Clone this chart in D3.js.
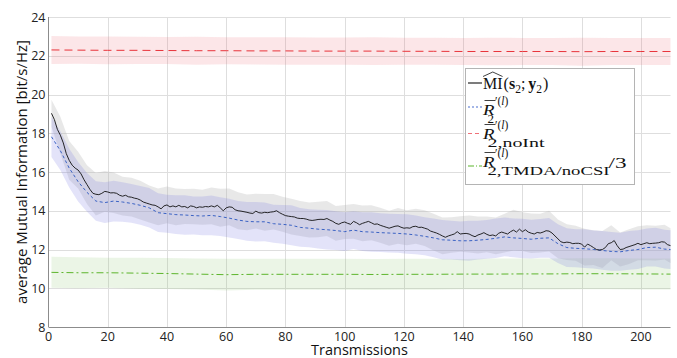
<!DOCTYPE html>
<html>
<head>
<meta charset="utf-8">
<script src="https://cdn.jsdelivr.net/npm/d3@7"></script>
<style>
  html, body { margin: 0; padding: 0; background: #fff; }
  svg { display: block; }
</style>
</head>
<body>
<div id="chart"></div>
<script>
// Transmission index for the MI estimate (one value per transmission)
const tFine = d3.range(1, 211);
// Coarser sampling used for the dashed R2 curve and the spread bands
const tCoarse = d3.range(1, 211, 3).concat([210]);
// Sampling of the almost flat reference curves
const tFlat = [1].concat(d3.range(10, 211, 10));

// MI estimate (black solid)
const mi = [19.03,18.7,18.2,17.9,17.5,16.95,16.6,16.35,16.2,16.1,
  15.9,15.6,15.35,15.1,14.9,14.85,14.83,14.9,15.0,14.97,
  14.92,14.93,14.9,14.8,14.75,14.8,14.72,14.7,14.65,14.62,
  14.55,14.45,14.4,14.35,14.3,14.28,14.2,14.1,14.25,14.3,
  14.2,14.25,14.2,14.28,14.2,14.22,14.15,14.25,14.22,14.15,
  14.2,14.18,14.22,14.2,14.25,14.2,14.28,14.15,14.0,14.15,
  14.2,14.18,14.05,14.0,13.98,13.95,13.92,13.88,13.86,13.98,
  13.9,13.88,13.92,13.9,13.93,13.95,14.0,13.9,13.82,13.75,
  13.72,13.7,13.68,13.62,13.6,13.6,13.57,13.52,13.5,13.52,
  13.55,13.56,13.55,13.6,13.52,13.45,13.35,13.3,13.38,13.42,
  13.35,13.3,13.45,13.38,13.28,13.35,13.4,13.45,13.38,13.3,
  13.32,13.25,13.2,13.15,13.1,13.15,13.2,13.22,13.15,13.1,
  13.12,13.1,13.18,13.2,13.14,13.15,13.1,13.05,12.95,12.9,
  12.85,12.78,12.7,12.63,12.7,12.75,12.8,12.92,12.8,12.82,
  12.83,12.8,12.72,12.66,12.75,12.8,12.87,12.78,12.72,12.75,
  12.7,12.84,12.9,12.85,12.8,12.92,13.0,12.9,13.05,12.92,
  13.02,12.9,12.84,12.8,12.88,12.85,12.9,12.97,12.95,12.85,
  12.7,12.55,12.4,12.35,12.38,12.36,12.3,12.32,12.32,12.28,
  12.12,12.28,12.2,12.1,12.0,11.97,12.0,12.1,12.3,12.35,
  12.46,12.2,12.0,12.02,12.1,12.15,12.2,12.25,12.32,12.25,
  12.3,12.35,12.3,12.32,12.33,12.35,12.4,12.38,12.25,12.2];

// spread of the MI estimate, at tCoarse
const miStd = [0.7,0.95,1.0,0.95,1.0,1.1,1.05,1.05,1.0,1.0,
  1.0,0.95,0.95,0.95,0.95,0.9,0.92,0.9,0.95,0.98,
  0.95,0.95,0.92,0.9,0.95,0.92,0.9,0.92,0.9,0.9,
  0.92,0.9,0.9,0.88,0.9,0.92,0.9,0.9,0.9,0.92,
  0.9,0.9,0.92,0.95,0.95,0.92,0.92,0.95,0.95,0.92,
  0.95,1.0,1.05,1.0,1.02,1.0,1.05,1.0,0.92,0.9,
  0.95,0.9,0.95,0.9,0.88,0.9,0.88,0.9,0.9,0.9,
  0.9];

// R2 (blue dashed), at tCoarse
const r2 = [17.82,17.1,16.2,15.5,14.95,14.5,14.42,14.5,14.45,14.38,
  14.28,14.15,13.9,13.85,13.8,13.78,13.75,13.73,13.76,13.7,
  13.62,13.52,13.45,13.43,13.43,13.33,13.3,13.25,13.14,13.1,
  13.05,13.02,12.98,12.92,13.0,12.92,12.9,12.87,12.85,12.83,
  12.8,12.75,12.68,12.6,12.5,12.48,12.45,12.45,12.48,12.52,
  12.58,12.65,12.6,12.57,12.53,12.58,12.6,12.3,12.1,12.06,
  12.04,12.0,11.95,11.9,11.88,11.95,12.0,12.1,12.12,12.02,
  12.0];
const r2Std = [1.05,1.0,1.0,1.02,1.0,1.02,1.05,1.05,1.02,1.0,
  1.0,1.02,1.0,0.98,1.0,1.02,0.98,1.0,1.03,1.0,
  1.0,0.98,1.0,1.02,1.0,0.98,1.0,1.03,1.0,0.98,
  1.0,1.02,1.0,1.0,0.98,1.0,1.02,1.0,1.0,1.0,
  1.02,1.0,0.98,1.0,1.02,1.0,1.0,1.03,1.0,1.0,
  1.02,1.0,1.0,1.02,1.0,1.0,1.03,1.0,1.0,0.98,
  1.0,0.98,1.0,1.0,0.98,1.0,1.0,0.98,1.0,1.0,
  1.0];

// R2 without interference (red dashed), at tFlat
const r2NoInt = [22.3,22.29,22.28,22.28,22.27,22.26,22.26,22.25,22.25,22.24,22.24,
  22.24,22.23,22.23,22.22,22.22,22.22,22.22,22.21,22.22,22.22,22.22];
const r2NoIntStd = [0.72,0.7,0.72,0.7,0.7,0.72,0.7,0.7,0.71,0.7,0.7,
  0.72,0.7,0.7,0.7,0.71,0.7,0.7,0.72,0.7,0.7,0.7];

// R2 TMDA / noCSI divided by 3 (green dash-dot), at tFlat
const r2Tmda = [10.82,10.8,10.8,10.78,10.76,10.73,10.7,10.72,10.72,10.72,10.72,
  10.71,10.72,10.72,10.73,10.73,10.74,10.74,10.75,10.75,10.74,10.73];
const r2TmdaStd = [0.8,0.8,0.78,0.8,0.8,0.8,0.82,0.8,0.8,0.8,0.8,
  0.8,0.8,0.8,0.78,0.8,0.8,0.8,0.8,0.8,0.8,0.8];

const xTicks = d3.range(0, 201, 20);
const yTicks = d3.range(8, 25, 2);

const width = 677;
const height = 358;
const marginLeft = 48.5, marginRight = 6.5, marginTop = 17, marginBottom = 31;

const x = d3.scaleLinear().domain([0, 210]).range([marginLeft, width - marginRight]);
const y = d3.scaleLinear().domain([8, 24]).range([height - marginBottom, marginTop]);

const svg = d3.select("#chart").append("svg")
  .attr("width", width)
  .attr("height", height)
  .attr("font-family", "'Open Sans', sans-serif");

// grid
svg.append("g")
  .attr("stroke", "#dedede")
  .attr("stroke-width", 1)
  .call(g => g.selectAll("line.v").data(xTicks.filter(d => d > 0)).join("line")
    .attr("class", "v")
    .attr("x1", d => Math.round(x(d)) + 0.5).attr("x2", d => Math.round(x(d)) + 0.5)
    .attr("y1", y(8)).attr("y2", y(24)))
  .call(g => g.selectAll("line.h").data(yTicks.filter(d => d > 8)).join("line")
    .attr("class", "h")
    .attr("y1", d => Math.round(y(d)) + 0.5).attr("y2", d => Math.round(y(d)) + 0.5)
    .attr("x1", x(0)).attr("x2", x(210)));

// helper for mean +/- spread bands
function band(ts, mean, spread, fill, opacity) {
  const pts = ts.map((t, i) => ({ t, lo: mean[i] - spread[i], hi: mean[i] + spread[i] }));
  svg.append("path")
    .datum(pts)
    .attr("fill", fill)
    .attr("fill-opacity", opacity)
    .attr("d", d3.area().x(d => x(d.t)).y0(d => y(d.lo)).y1(d => y(d.hi)));
}

// MI values at the coarse sampling, for its band
const miCoarse = tCoarse.map(t => mi[t - 1]);

band(tFlat, r2NoInt, r2NoIntStd, "#f06a78", 0.17);
band(tFlat, r2Tmda, r2TmdaStd, "#78be5a", 0.15);
band(tCoarse, miCoarse, miStd, "#b4b4b4", 0.3);
band(tCoarse, r2, r2Std, "#7474e0", 0.2);

// curves
function curve(ts, vals, color, dash, w = 1) {
  svg.append("path")
    .datum(ts.map((t, i) => [t, vals[i]]))
    .attr("fill", "none")
    .attr("stroke", color)
    .attr("stroke-width", w)
    .attr("stroke-dasharray", dash)
    .attr("d", d3.line().x(d => x(d[0])).y(d => y(d[1])));
}

curve(tFlat, r2NoInt, "#e8333a", "8,5");
curve(tFlat, r2Tmda, "#5db52c", "7,3,2,3");
curve(tCoarse, r2, "#3a62c4", "3,2.5");
curve(tFine, mi, "#111", null, 0.9);

// axes lines
svg.append("line")
  .attr("x1", x(0)).attr("x2", x(0))
  .attr("y1", y(24)).attr("y2", y(8))
  .attr("stroke", "#8c8c8c");
svg.append("line")
  .attr("x1", x(0)).attr("x2", x(210))
  .attr("y1", y(8) + 0.5).attr("y2", y(8) + 0.5)
  .attr("stroke", "#8c8c8c");

// tick labels
svg.append("g")
  .attr("font-size", 12.5)
  .attr("fill", "#222")
  .selectAll("text").data(xTicks).join("text")
  .attr("x", d => x(d))
  .attr("y", y(8) + 14)
  .attr("text-anchor", "middle")
  .text(d => d);

svg.append("g")
  .attr("font-size", 12.5)
  .attr("fill", "#222")
  .selectAll("text").data(yTicks).join("text")
  .attr("x", x(0) - 3)
  .attr("y", d => y(d) + 4.5)
  .attr("text-anchor", "end")
  .text(d => d);

// axis titles
svg.append("text")
  .attr("x", (x(0) + x(210)) / 2)
  .attr("y", 354.5)
  .attr("text-anchor", "middle")
  .attr("font-size", 14.5)
  .attr("fill", "#111")
  .text("Transmissions");

svg.append("text")
  .attr("transform", `translate(27,${(y(8) + y(24)) / 2}) rotate(-90)`)
  .attr("text-anchor", "middle")
  .attr("font-size", 15)
  .attr("fill", "#111")
  .text("average Mutual Information [bit/s/Hz]");

// legend
const lg = svg.append("g").attr("font-family", "'Liberation Serif', serif").attr("fill", "#111");
lg.append("rect")
  .attr("x", 465.5).attr("y", 68.5)
  .attr("width", 169).attr("height", 116)
  .attr("fill", "#fff")
  .attr("stroke", "#b4b4b4");

const sampleX0 = 468, sampleX1 = 482;
const samples = [
  { yy: 83, color: "#111", dash: null },
  { yy: 107, color: "#4a6fd0", dash: "2,2" },
  { yy: 133.5, color: "#f07078", dash: "4,3" },
  { yy: 166, color: "#5db52c", dash: "6,2,1,2" },
];
lg.selectAll("line.sample").data(samples).join("line")
  .attr("class", "sample")
  .attr("x1", sampleX0).attr("x2", sampleX1)
  .attr("y1", d => d.yy).attr("y2", d => d.yy)
  .attr("stroke", d => d.color)
  .attr("stroke-width", 1.1)
  .attr("stroke-dasharray", d => d.dash);

// place a piece of text, return its width
function piece(px, py, str, o = {}) {
  const t = lg.append("text")
    .attr("x", px).attr("y", py)
    .attr("font-size", o.size || 16)
    .attr("font-style", o.italic ? "italic" : null)
    .attr("font-weight", o.bold ? "bold" : null)
    .text(str);
  if (o.len) t.attr("textLength", o.len).attr("lengthAdjust", "spacingAndGlyphs");
  return o.len || t.node().getComputedTextLength();
}

// row 1: MI-hat(s2;y2)
{
  const b = 89;
  let cx = 483;
  const wMI = piece(cx, b, "MI", { size: 16 });
  lg.append("path")
    .attr("d", `M${cx},76.5L${cx + wMI / 2},72L${cx + wMI},76.5`)
    .attr("fill", "none").attr("stroke", "#111").attr("stroke-width", 0.8);
  cx += wMI + 1;
  cx += piece(cx, b, "(", { size: 16 });
  cx += piece(cx, b, "s", { size: 16, bold: true });
  cx += piece(cx, b + 4, "2", { size: 11.5 });
  cx += piece(cx, b, ";", { size: 16 }) + 3;
  cx += piece(cx, b, "y", { size: 16, bold: true });
  cx += piece(cx, b + 4, "2", { size: 11.5 });
  piece(cx + 1, b, ")", { size: 16 });
}

// rows 2-4: R-bar with prime (l) superscript and a subscript
function rRow(b, sub, subLen, tail) {
  const rx = 483;
  const wR = piece(rx, b, "R", { size: 15, italic: true, len: 11.5 });
  lg.append("line")
    .attr("x1", rx + 1.5).attr("x2", rx + wR + 1)
    .attr("y1", b - 14.5).attr("y2", b - 14.5)
    .attr("stroke", "#111").attr("stroke-width", 0.8);
  const px = rx + wR + 0.5;
  const wp = piece(px, b - 10, "\u2032(", { size: 11.5 });
  const wl = piece(px + wp, b - 10, "l", { size: 11.5, italic: true });
  piece(px + wp + wl, b - 10, ")", { size: 11.5 });
  piece(rx + 4.5, b + 7.5, sub, { size: 13, len: subLen });
  if (tail) piece(rx + 4.5 + subLen - 1, b + 1, tail, { size: 15, len: 18 });
}
rRow(115, "2", null);
rRow(139, "2,noInt", 57);
rRow(167, "2,TMDA/noCSI", 122, "/3");
</script>
</body>
</html>
